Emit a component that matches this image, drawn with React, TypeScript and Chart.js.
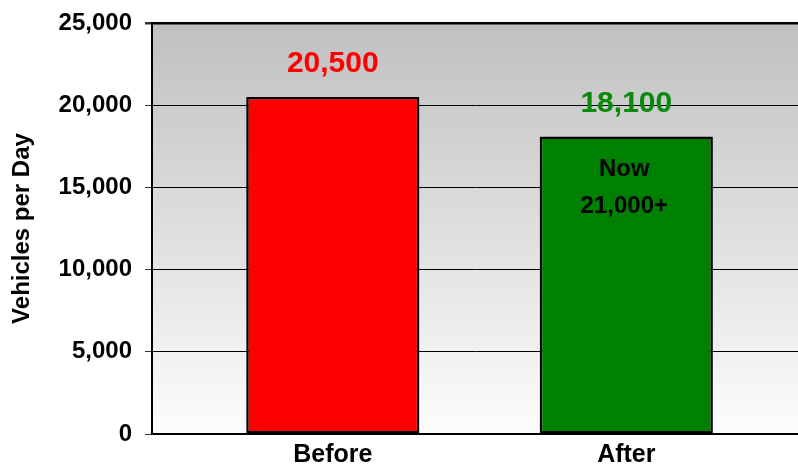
import React, { useEffect, useRef } from "react";
import { Chart, registerables } from "chart.js";

Chart.register(...registerables);

const categories: string[] = ["Before", "After"];
const vehiclesPerDay: number[] = [20500, 18100];
const barColors: string[] = ["#ff0000", "#008000"];
const labelColors: string[] = ["#ff0000", "#0a8a0a"];
const yTickValues: number[] = [0, 5000, 10000, 15000, 20000, 25000];
const noteLines: string[] = ["Now", "21,000+"];
const noteCategoryIndex = 1;
const yAxisTitle = "Vehicles per Day";

const FONT = "'Liberation Sans', Arial, sans-serif";

const fmt = (v: number) => v.toLocaleString("en-US");

export default function App() {
  const canvasRef = useRef<HTMLCanvasElement | null>(null);

  useEffect(() => {
    const canvas = canvasRef.current;
    if (!canvas) return;

    const bgPlugin = {
      id: "bgGradient",
      beforeDraw(chart: any) {
        const { ctx, chartArea } = chart;
        if (!chartArea) return;
        const g = ctx.createLinearGradient(0, chartArea.top, 0, chartArea.bottom);
        g.addColorStop(0, "#c0c0c0");
        g.addColorStop(1, "#fdfdfd");
        ctx.save();
        ctx.fillStyle = g;
        ctx.fillRect(chartArea.left, chartArea.top, chartArea.right - chartArea.left, chartArea.bottom - chartArea.top);
        ctx.restore();
      },
    };

    const labelPlugin = {
      id: "valueLabels",
      afterDatasetsDraw(chart: any) {
        const { ctx } = chart;
        const meta = chart.getDatasetMeta(0);
        ctx.save();
        ctx.textAlign = "center";
        ctx.textBaseline = "middle";
        meta.data.forEach((bar: any, i: number) => {
          ctx.font = `bold 30px ${FONT}`;
          ctx.fillStyle = labelColors[i];
          ctx.fillText(fmt(vehiclesPerDay[i]), bar.x, bar.y - 33);
          if (i === noteCategoryIndex) {
            ctx.font = `bold 24px ${FONT}`;
            ctx.fillStyle = "#000000";
            noteLines.forEach((line, k) => {
              ctx.fillText(line, bar.x - 2, bar.y + 33 + k * 37);
            });
          }
        });
        ctx.restore();
      },
    };

    const chart = new Chart(canvas, {
      type: "bar",
      data: {
        datasets: [
          {
            data: vehiclesPerDay.map((v, i) => ({ x: i + 1, y: v })),
            backgroundColor: barColors,
            borderColor: "#000000",
            borderWidth: 2.5,
            borderSkipped: false,
            categoryPercentage: 1,
            barPercentage: 0.59,
          },
        ],
      },
      options: {
        animation: false,
        responsive: false,
        devicePixelRatio: 1,
        layout: { padding: { top: 23, right: 0, left: 0, bottom: 0 } },
        plugins: {
          legend: { display: false },
          tooltip: { enabled: false },
        },
        scales: {
          x: {
            type: "linear",
            offset: false,
            min: 0.384,
            max: 2.585,
            afterBuildTicks: (scale: any) => {
              scale.ticks = categories.map((_, i) => ({ value: i + 1 }));
            },
            afterFit: (scale: any) => {
              scale.height = 38;
              scale.paddingLeft = 0;
              scale.paddingRight = 0;
            },
            ticks: {
              callback: (v: any) => categories[Number(v) - 1] ?? "",
              font: { family: FONT, size: 25, weight: "bold" },
              color: "#000000",
              padding: 6,
              maxRotation: 0,
              autoSkip: false,
            },
            grid: { display: false, drawTicks: false, offset: false },
            border: { display: true, color: "#000000", width: 2 },
          },
          y: {
            min: 0,
            max: 25000,
            afterBuildTicks: (scale: any) => {
              scale.ticks = yTickValues.map((v) => ({ value: v }));
            },
            afterFit: (scale: any) => {
              scale.width = 152;
              scale.paddingTop = 0;
              scale.paddingBottom = 0;
            },
            ticks: {
              callback: (v: any) => fmt(Number(v)),
              font: { family: FONT, size: 24, weight: "bold" },
              color: "#000000",
              padding: 13,
            },
            grid: {
              color: "#000000",
              tickColor: "#333333",
              tickLength: 7,
              lineWidth: (ctx: any) => (ctx.tick && ctx.tick.value === 25000 ? 2.5 : 1),
            },
            border: { display: true, color: "#000000", width: 2 },
            title: {
              display: true,
              text: yAxisTitle,
              font: { family: FONT, size: 24, weight: "bold" },
              color: "#000000",
              padding: { top: 8, bottom: 0 },
            },
          },
        },
      },
      plugins: [bgPlugin, labelPlugin],
    } as any);

    return () => chart.destroy();
  }, []);

  return (
    <div style={{ position: "absolute", left: 0, top: 0, width: 798, height: 472, background: "#ffffff" }}>
      <canvas ref={canvasRef} width={798} height={472} style={{ width: 798, height: 472, display: "block" }} />
    </div>
  );
}
